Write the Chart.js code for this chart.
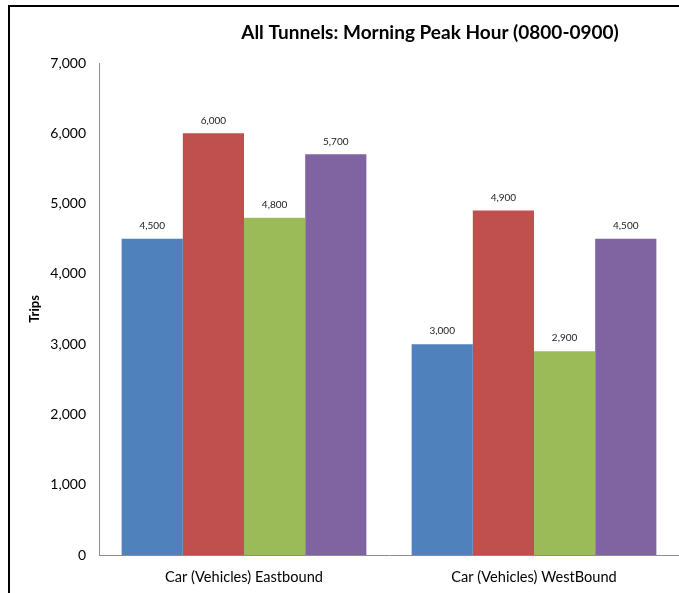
<!DOCTYPE html>
<html>
<head>
<meta charset="utf-8">
<script src="https://cdn.jsdelivr.net/npm/chart.js@4/dist/chart.umd.min.js"></script>
<style>
  html, body { margin: 0; padding: 0; background: #fff; overflow: hidden; }
  #wrap { position: absolute; left: 0; top: 0; width: 679px; height: 610px; }
</style>
</head>
<body>
<div id="wrap"><canvas id="c" width="679" height="610"></canvas></div>
<script>
const chartTitle = 'All Tunnels: Morning Peak Hour (0800-0900)';
const categories = ['Car (Vehicles) Eastbound', 'Car (Vehicles) WestBound'];
const seriesNames = ['Series 1', 'Series 2', 'Series 3', 'Series 4'];
const series1 = [4500, 3000];
const series2 = [6000, 4900];
const series3 = [4800, 2900];
const series4 = [5700, 4500];
const seriesColors = ['#4F81BD', '#C0504D', '#9BBB59', '#8064A2'];
const yTicks = [0, 1000, 2000, 3000, 4000, 5000, 6000, 7000];

const FONT = 'Lato, "Liberation Sans", sans-serif';
const fmt = v => v.toLocaleString('en-US');

// frame of the chart object: only its left and top edges fall inside the view
const framePlugin = {
  id: 'frame',
  beforeDraw(chart) {
    const ctx = chart.ctx;
    ctx.save();
    ctx.strokeStyle = '#000';
    ctx.lineWidth = 2;
    ctx.beginPath();
    ctx.moveTo(9, chart.height + 10);
    ctx.lineTo(9, 6);
    ctx.lineTo(chart.width + 10, 6);
    ctx.stroke();
    ctx.restore();
  }
};

// chart title
const titlePlugin = {
  id: 'titleText',
  afterDraw(chart) {
    const ctx = chart.ctx;
    ctx.save();
    ctx.font = 'bold 19px ' + FONT;
    ctx.fillStyle = '#000';
    ctx.textAlign = 'center';
    ctx.textBaseline = 'middle';
    ctx.fillText(chartTitle, 430, 33);
    ctx.restore();
  }
};

// value labels above bars
const valueLabels = {
  id: 'valueLabels',
  afterDatasetsDraw(chart) {
    const ctx = chart.ctx;
    ctx.save();
    ctx.font = '10px ' + FONT;
    ctx.fillStyle = '#222';
    ctx.textAlign = 'center';
    ctx.textBaseline = 'bottom';
    chart.data.datasets.forEach((ds, i) => {
      chart.getDatasetMeta(i).data.forEach((bar, j) => {
        ctx.fillText(fmt(ds.data[j]), bar.x, bar.y - 8);
      });
    });
    ctx.restore();
  }
};

const dataRows = [series1, series2, series3, series4];

new Chart(document.getElementById('c'), {
  type: 'bar',
  data: {
    labels: categories,
    datasets: dataRows.map((d, i) => ({
      label: seriesNames[i],
      data: d,
      backgroundColor: seriesColors[i],
      borderWidth: 0,
      barPercentage: 1,
      categoryPercentage: 0.844
    }))
  },
  options: {
    responsive: false,
    animation: false,
    events: [],
    layout: { padding: { left: 0, right: 0, top: 63, bottom: 17 } },
    plugins: {
      legend: { display: false },
      title: { display: false },
      tooltip: { enabled: false }
    },
    scales: {
      x: {
        grid: { display: false, drawTicks: false },
        border: { display: true, color: '#8c8c8c', width: 1 },
        ticks: { color: '#000', font: { family: FONT, size: 14.6 }, padding: 14 },
        afterFit(scale) { scale.height = 38; }
      },
      y: {
        min: 0,
        max: 7000,
        afterBuildTicks(scale) { scale.ticks = yTicks.map(v => ({ value: v })); },
        grid: { display: false, drawTicks: false },
        border: { display: true, color: '#8c8c8c', width: 1 },
        ticks: { color: '#000', font: { family: FONT, size: 14 }, padding: 13, callback: v => fmt(v) },
        title: { display: true, text: 'Trips', color: '#000', font: { family: FONT, size: 13, weight: 'bold' }, padding: { top: 27, bottom: 0 } },
        afterFit(scale) { scale.width = 99; }
      }
    }
  },
  plugins: [framePlugin, titlePlugin, valueLabels]
});
</script>
</body>
</html>
